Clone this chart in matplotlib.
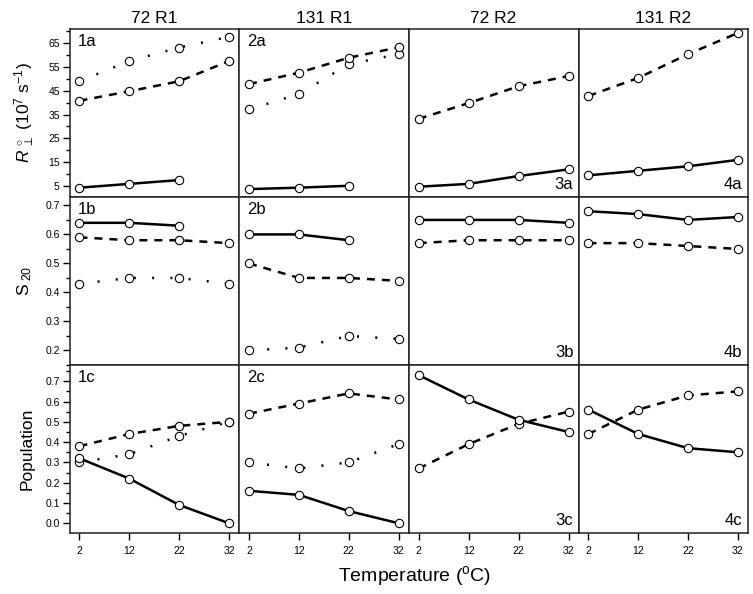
import matplotlib
matplotlib.use('Agg')
import matplotlib.pyplot as plt
from matplotlib.ticker import MultipleLocator, FixedLocator

plt.rcParams['font.family'] = ['Liberation Sans', 'DejaVu Sans']
plt.rcParams['mathtext.fontset'] = 'custom'
plt.rcParams['mathtext.rm'] = 'Liberation Sans'
plt.rcParams['mathtext.it'] = 'Liberation Sans:italic'

temps = [2, 12, 22, 32]
columns = ['72 R1', '131 R1', '72 R2', '131 R2']

# row a: R perpendicular (10^7 s^-1)
r_solid = [[4.2, 5.8, 7.4], [3.6, 4.2, 5.0], [4.6, 5.8, 9.1, 11.9], [9.4, 11.3, 13.2, 15.9]]
r_dashed = [[40.8, 44.8, 49.0, 57.5], [47.8, 52.6, 58.9, 63.3], [33.2, 39.8, 46.9, 51.2], [42.8, 50.4, 60.4, 69.3]]
r_dotted = [[49.0, 57.5, 63.2, 67.7], [37.2, 43.6, 56.2, 60.4], None, None]

# row b: S20
s_solid = [[0.64, 0.64, 0.63], [0.60, 0.60, 0.58], [0.65, 0.65, 0.65, 0.64], [0.68, 0.67, 0.65, 0.66]]
s_dashed = [[0.59, 0.58, 0.58, 0.57], [0.50, 0.45, 0.45, 0.44], [0.57, 0.58, 0.58, 0.58], [0.57, 0.57, 0.56, 0.55]]
s_dotted = [[0.43, 0.45, 0.45, 0.43], [0.20, 0.21, 0.25, 0.24], None, None]

# row c: population
p_solid = [[0.32, 0.22, 0.09, 0.0], [0.16, 0.14, 0.06, 0.0], [0.73, 0.61, 0.51, 0.45], [0.56, 0.44, 0.37, 0.35]]
p_dashed = [[0.38, 0.44, 0.48, 0.50], [0.54, 0.59, 0.64, 0.61], [0.27, 0.39, 0.49, 0.55], [0.44, 0.56, 0.63, 0.65]]
p_dotted = [[0.30, 0.34, 0.43, 0.50], [0.30, 0.27, 0.30, 0.39], None, None]

rows = [
    (r_solid, r_dashed, r_dotted, (0.4, 71), [5, 15, 25, 35, 45, 55, 65], None, 'a'),
    (s_solid, s_dashed, s_dotted, (0.15, 0.73), None, 0.1, 'b'),
    (p_solid, p_dashed, p_dotted, (-0.048, 0.78), None, 0.1, 'c'),
]
ylabels = [r'$R^{\,\circ}_{\ \perp}\ (10^{7}\ \mathrm{s}^{-1})$', r'$\mathrm{S}_{\ 20}$', 'Population']

W, H = 753, 594
xs = [69.5, 239, 408.7, 578.5, 747.7]
ys = [29, 196.7, 365, 533]

fig = plt.figure(figsize=(W / 100, H / 100), dpi=100)

style = dict(color='black', marker='o', markersize=6, markerfacecolor='white',
             markeredgecolor='black', markeredgewidth=0.8, lw=1.8)

for r, (solid, dashed, dotted, ylim, yticks, ystep, tag) in enumerate(rows):
    for c in range(4):
        x0, x1 = xs[c], xs[c + 1]
        y0, y1 = ys[r], ys[r + 1]
        ax = fig.add_axes([x0 / W, 1 - y1 / H, (x1 - x0) / W, (y1 - y0) / H])
        if dotted[c] is not None:
            ax.plot(temps[:len(dotted[c])], dotted[c], dashes=(0.8, 6.5), **style)
        ax.plot(temps[:len(dashed[c])], dashed[c], dashes=(3.2, 2.8), **style)
        ax.plot(temps[:len(solid[c])], solid[c], **style)
        ax.set_xlim(0, 34)
        ax.set_ylim(*ylim)
        for s in ax.spines.values():
            s.set_linewidth(1.1)
            s.set_color('#222222')
        ax.xaxis.set_major_locator(FixedLocator(temps))
        if yticks is not None:
            ax.yaxis.set_major_locator(FixedLocator(yticks))
            ax.yaxis.set_minor_locator(MultipleLocator(5))
        else:
            ax.yaxis.set_major_locator(MultipleLocator(ystep))
            ax.yaxis.set_minor_locator(MultipleLocator(ystep / 2))
        ax.tick_params(axis='both', which='major', direction='out', length=5,
                       width=1, labelsize=7.5, pad=2)
        ax.tick_params(axis='x', which='major', pad=4)
        ax.tick_params(axis='y', which='minor', direction='out', length=3, width=1)
        ax.tick_params(top=False, right=False)
        if r < 2:
            ax.tick_params(axis='x', bottom=False, labelbottom=False)
        if c > 0:
            ax.tick_params(axis='y', which='both', left=False, labelleft=False)
        else:
            ax.set_ylabel(ylabels[r], fontsize=12.5, labelpad=8)
        if r == 0:
            ax.set_title(columns[c], fontsize=12.5, pad=4)
        label = f'{c + 1}{tag}'
        if c < 2:
            ax.text(0.05, 0.97, label, transform=ax.transAxes, fontsize=12,
                    ha='left', va='top')
        else:
            ax.text(0.97, 0.03, label, transform=ax.transAxes, fontsize=12,
                    ha='right', va='bottom')

fig.text(415 / W, 1 - 576 / H, r'Temperature ($^{\mathrm{o}}$C)',
         fontsize=14, ha='center', va='center')

fig.savefig('out.png', dpi=100)
